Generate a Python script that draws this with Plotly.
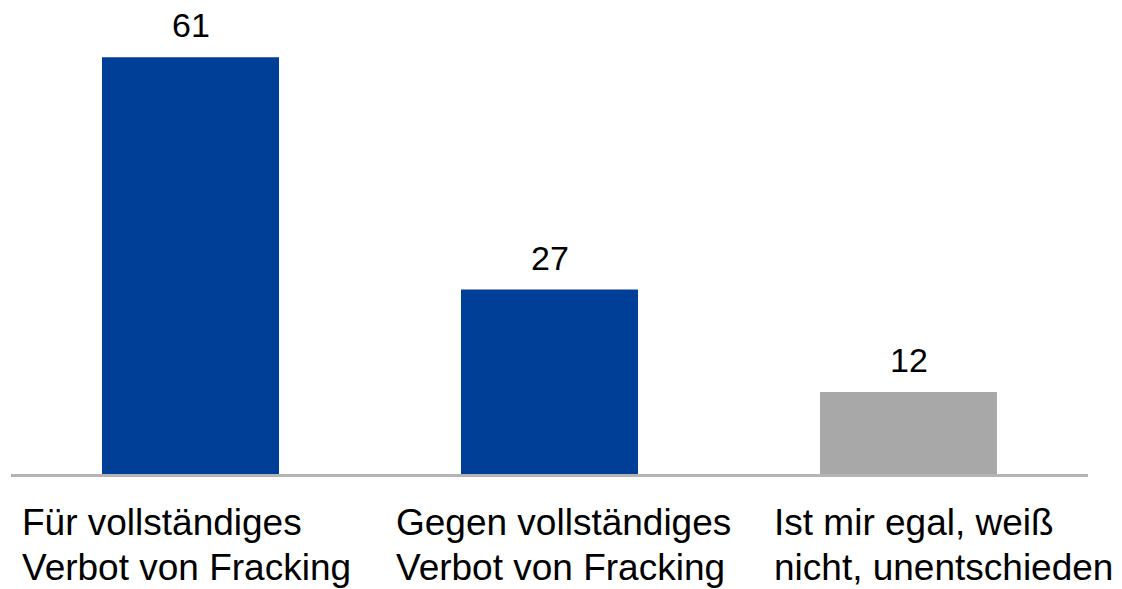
import plotly.graph_objects as go

categories_line1 = ["Für vollständiges", "Gegen vollständiges", "Ist mir egal, weiß"]
categories_line2 = ["Verbot von Fracking", "Verbot von Fracking", "nicht, unentschieden"]
values = [61, 27, 12]
colors = ["#003F98", "#003F98", "#A8A8A8"]
label_shifts = [-171, -156, -137]

FONT = "Liberation Sans, Arial, sans-serif"
x_idx = list(range(len(values)))

fig = go.Figure(go.Bar(
    x=x_idx, y=values, marker=dict(color=colors, line=dict(width=0)),
    width=0.493, hoverinfo="skip",
))

annotations = []
for i, v in enumerate(values):
    annotations.append(dict(x=i, y=v, xref="x", yref="y", text=str(v), showarrow=False,
                            yanchor="bottom", yshift=11,
                            font=dict(family=FONT, size=34, color="#000000")))
for i in range(len(values)):
    for line, ys in ((categories_line1[i], -26), (categories_line2[i], -71)):
        annotations.append(dict(x=i, y=0, xref="x", yref="paper", text=line, showarrow=False,
                                xanchor="left", yanchor="top", align="left",
                                xshift=label_shifts[i], yshift=ys,
                                font=dict(family=FONT, size=37, color="#000000")))

# page body has an 8px margin, so the figure is sized/offset to compensate
fig.update_layout(
    width=1114, height=581,
    margin=dict(l=3, r=34, t=22, b=114.5),
    paper_bgcolor="white", plot_bgcolor="white",
    showlegend=False,
    xaxis=dict(range=[-0.5, 2.5], showticklabels=False, showgrid=False, zeroline=False,
               showline=True, linecolor="#B4B4B4", linewidth=2.5, ticks=""),
    yaxis=dict(range=[0, 65], visible=False, showgrid=False, zeroline=False),
    annotations=annotations,
)

fig.write_html("out.html")
